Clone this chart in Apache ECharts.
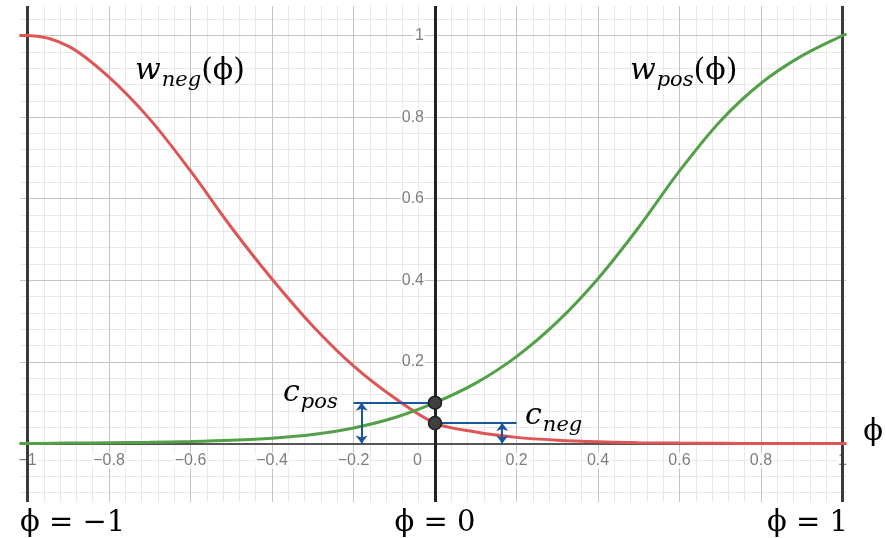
<!DOCTYPE html>
<html><head><meta charset="utf-8">
<script src="https://cdn.jsdelivr.net/npm/echarts@6/dist/echarts.min.js"></script>
<style>html,body{margin:0;padding:0;background:#fff}#c{width:886px;height:538px}</style>
</head><body><div id="c"></div>
<script>
// ---- data ----
const phi  = [-1.02, -1, -0.9, -0.8, -0.7, -0.6, -0.5, -0.4, -0.3, -0.2, -0.1, 0, 0.1, 0.2, 0.3, 0.4, 0.5, 0.6, 0.7, 0.8, 0.9, 1, 1.01];
const wNeg = [1.0, 1.0, 0.974, 0.898, 0.795, 0.668, 0.53, 0.403, 0.288, 0.19, 0.112, 0.05, 0.028, 0.015, 0.008, 0.004, 0.002, 0.001, 0.0005, 0, 0, 0, 0];
const wPos = [0, 0, 0.001, 0.002, 0.003, 0.005, 0.008, 0.013, 0.022, 0.038, 0.063, 0.1, 0.148, 0.213, 0.298, 0.404, 0.53, 0.668, 0.79, 0.883, 0.95, 1.0, 1.003];
const dotPhi = [0, 0];
const dotW   = [0.1, 0.05];           // c_pos, c_neg
const xTicks = [-1, -0.8, -0.6, -0.4, -0.2, 0, 0.2, 0.4, 0.6, 0.8, 1];
const yTicks = [0.2, 0.4, 0.6, 0.8, 1];
const xTickLabels = ['\u22121', '\u22120.8', '\u22120.6', '\u22120.4', '\u22120.2', '0', '0.2', '0.4', '0.6', '0.8', '1'];
const yTickLabels = ['0.2', '0.4', '0.6', '0.8', '1'];
const boundaryPhi = [-1, 1];
const bottomLabels = ['\u03d5 = \u22121', '\u03d5 = 0', '\u03d5 = 1'];

// ---- axes extents ----
const X_MIN = -1.0184, X_MAX = 1.0086, Y_MIN = -0.1434, Y_MAX = 1.0723;

const r = v => Math.round(v * 1000) / 1000;
const minorX = [], majorX = [], minorY = [], majorY = [];
for (let k = -25; k <= 25; k++) (k % 5 === 0 ? majorX : minorX).push(r(k * 0.04));
for (let k = -3; k <= 26; k++) (k % 5 === 0 ? majorY : minorY).push(r(k * 0.04));

const tickFont = {fontFamily: 'Liberation Sans, Arial, sans-serif', fontSize: 16, color: '#5c5c5c', backgroundColor: '#fff', padding: [0, 1]};

const vline = (vals, key, color, width, z) => ({
  type: 'line', data: [], z: z, silent: true,
  markLine: {z: z, silent: true, symbol: ['none', 'none'], animation: false, label: {show: false},
    lineStyle: {color: color, width: width, type: 'solid'},
    emphasis: {disabled: true},
    data: vals.map(v => ({[key]: v}))}
});

const chart = echarts.init(document.getElementById('c'), null, {renderer: 'canvas'});
chart.setOption({
  animation: false,
  backgroundColor: '#fff',
  grid: {left: 20, top: 6, width: 826, height: 496, containLabel: false, outerBoundsMode: 'none'},
  xAxis: {
    type: 'value', min: X_MIN, max: X_MAX,
    axisLine: {show: false}, axisTick: {show: false}, splitLine: {show: false}, axisLabel: {show: false}
  },
  yAxis: {
    type: 'value', min: Y_MIN, max: Y_MAX,
    axisLine: {show: false}, axisTick: {show: false}, splitLine: {show: false}, axisLabel: {show: false}
  },
  series: [
    vline(minorX, 'xAxis', '#e8e8e8', 1, 0),
    vline(minorY, 'yAxis', '#e8e8e8', 1, 0),
    vline(majorX, 'xAxis', '#c4c4c4', 1, 1),
    vline(majorY, 'yAxis', '#c4c4c4', 1, 1),
    // tick labels
    {
      type: 'scatter', z: 2, silent: true, symbolSize: 0,
      data: xTicks.map(v => ({value: [v, 0], label: {offset: v === 0 ? [-17.5, 0] : [0, 0]}})),
      label: {show: true, position: 'bottom', distance: 9,
        formatter: p => xTickLabels[p.dataIndex], ...tickFont}
    },
    {
      type: 'scatter', z: 2, silent: true, symbolSize: 0,
      data: yTicks.map(v => [0, v]),
      label: {show: true, position: 'left', distance: 10,
        formatter: p => yTickLabels[p.dataIndex], ...tickFont}
    },
    vline([0], 'yAxis', '#555', 2, 3),
    vline(boundaryPhi, 'xAxis', '#3a3a3a', 3, 3),
    vline([0], 'xAxis', '#222', 3, 3),
    {
      name: 'w_neg', type: 'line', z: 4, showSymbol: false, smooth: 0.33, clip: true,
      lineStyle: {color: '#dd5555', width: 3}, itemStyle: {color: '#dd5555'},
      data: phi.map((p, i) => [p, wNeg[i]])
    },
    {
      name: 'w_pos', type: 'line', z: 4, showSymbol: false, smooth: 0.33, clip: true,
      lineStyle: {color: '#52a047', width: 3}, itemStyle: {color: '#52a047'},
      data: phi.map((p, i) => [p, wPos[i]])
    },
    {
      type: 'line', data: [], z: 5, silent: true,
      markLine: {z: 5, silent: true, animation: false, label: {show: false}, symbolSize: [9, 8],
        lineStyle: {color: '#1a559a', width: 2, type: 'solid'},
        data: [
          [{coord: [-0.2, dotW[0]], symbol: 'none'}, {coord: [0, dotW[0]], symbol: 'none'}],
          [{coord: [-0.18, dotW[0]], symbol: 'arrow'}, {coord: [-0.18, 0], symbol: 'arrow'}],
          [{coord: [0, dotW[1]], symbol: 'none'}, {coord: [0.2, dotW[1]], symbol: 'none'}],
          [{coord: [0.165, dotW[1]], symbol: 'arrow'}, {coord: [0.165, 0], symbol: 'arrow'}]
        ]}
    },
    {
      type: 'scatter', z: 6, symbolSize: 13, silent: true,
      itemStyle: {color: '#404040', borderColor: '#1e1e1e', borderWidth: 1.5, opacity: 1},
      data: dotPhi.map((p, i) => [p, dotW[i]])
    }
  ]
});

// ---- text annotations, anchored in data units ----
const P = (x, y) => chart.convertToPixel({gridIndex: 0}, [x, y]);
const SF = 'DejaVu Serif, Liberation Serif, serif';
const rich = {
  i: {fontFamily: SF, fontSize: 30, fontStyle: 'italic', lineHeight: 32, verticalAlign: 'top', fill: '#000'},
  s: {fontFamily: SF, fontSize: 21, fontStyle: 'italic', lineHeight: 21, verticalAlign: 'top', padding: [14, 0, 0, 1], fill: '#000'},
  u: {fontFamily: SF, fontSize: 30, lineHeight: 32, verticalAlign: 'top', fill: '#000'}
};
const mathLabel = (text, x, y) => {
  const p = P(x, y);
  return {type: 'text', x: p[0], y: p[1] - 16, z: 10, silent: true,
    style: {text: text, rich: rich, align: 'left', verticalAlign: 'top', textAlign: 'left', textVerticalAlign: 'top'}};
};
const plainLabel = (text, x, y, align) => {
  const p = P(x, y);
  return {type: 'text', x: p[0], y: p[1], z: 10, silent: true,
    style: {text: text, font: '29px ' + SF, fill: '#000', align: align, verticalAlign: 'middle', textAlign: align, textVerticalAlign: 'middle'}};
};
chart.setOption({
  graphic: [
    mathLabel('{i|w}{s|neg}{u|(\u03d5)}', -0.736, 0.91),
    mathLabel('{i|w}{s|pos}{u|(\u03d5)}', 0.4785, 0.91),
    mathLabel('{i|c}{s|pos}', -0.373, 0.122),
    mathLabel('{i|c}{s|neg}', 0.221, 0.065),
    plainLabel('\u03d5', 1.075, 0.028, 'center'),
    plainLabel(bottomLabels[0], X_MIN, -0.196, 'left'),
    plainLabel(bottomLabels[1], 0, -0.196, 'center'),
    plainLabel(bottomLabels[2], 1.0135, -0.196, 'right')
  ]
});
</script>
</body></html>
